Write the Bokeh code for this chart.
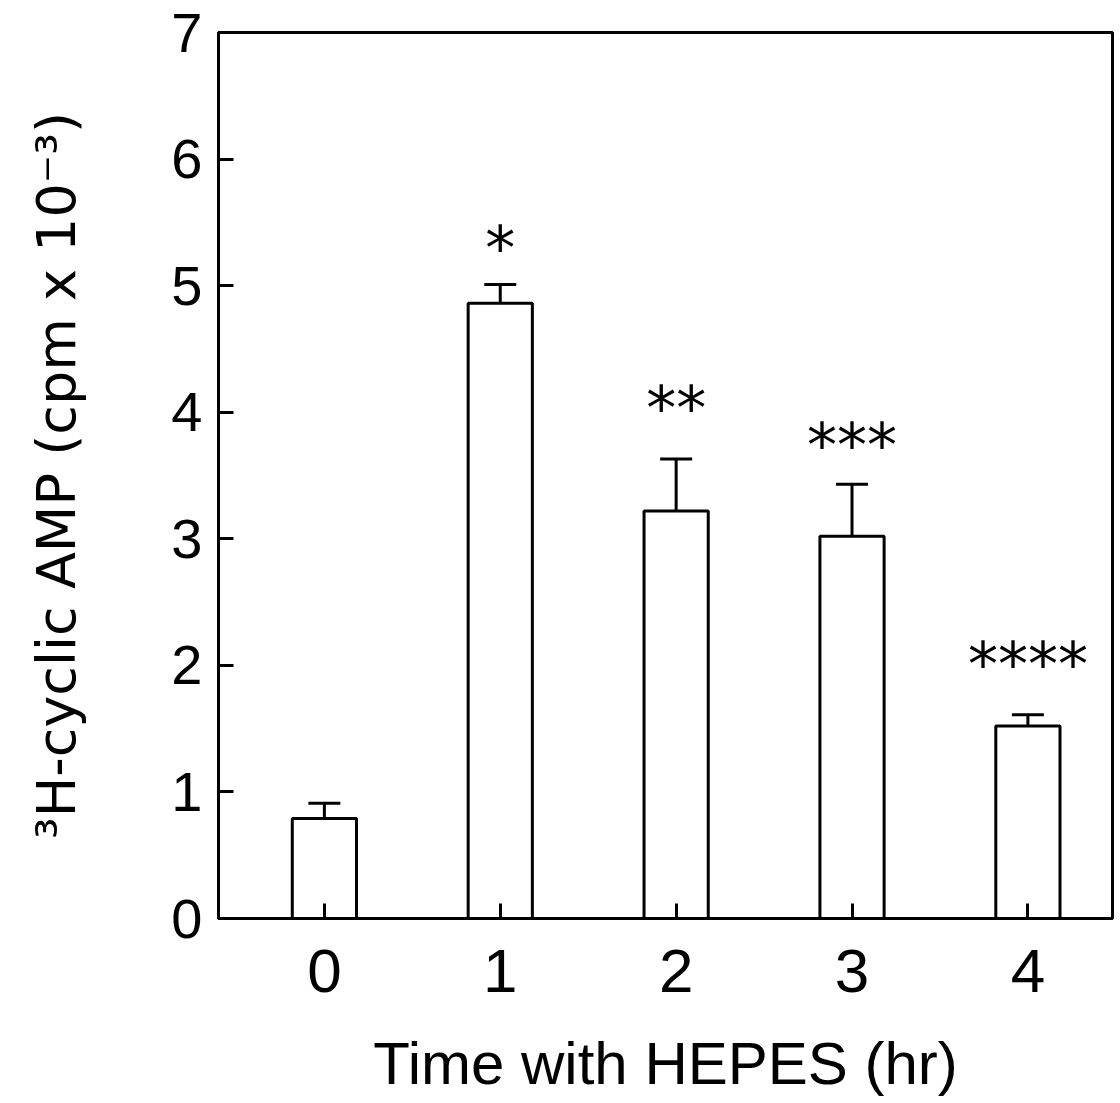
from bokeh.plotting import figure
from bokeh.models import ColumnDataSource, Whisker, TeeHead, FixedTicker
from bokeh.core.properties import value
from bokeh.embed import file_html
from bokeh.resources import INLINE

# ---- data ----
hours = [0, 1, 2, 3, 4]
hour_labels = ["0", "1", "2", "3", "4"]
camp_mean = [0.79, 4.86, 3.22, 3.02, 1.52]      # cpm x 10^-3
camp_sem = [0.12, 0.15, 0.41, 0.41, 0.09]
significance = ["", "*", "**", "***", "****"]
significance_y = [0.0, 5.30, 4.03, 3.74, 2.01]   # height of the asterisk labels
y_ticks = [0, 1, 2, 3, 4, 5, 6, 7]

upper = [m + s for m, s in zip(camp_mean, camp_sem)]

src = ColumnDataSource(dict(x=hours, mean=camp_mean, upper=upper,
                            star_y=significance_y, stars=significance))

TF = "Liberation Sans"
LW = 3

p = figure(frame_width=894, frame_height=886, output_backend="svg",
           toolbar_location=None,
           x_range=(-0.602, 4.481), y_range=(0, 7),
           min_border_left=218, min_border_right=2, min_border_top=32,
           min_border_bottom=150)
p.background_fill_color = "white"
p.border_fill_color = "white"
p.xgrid.visible = False
p.ygrid.visible = False
p.outline_line_color = "black"
p.outline_line_width = LW

p.vbar(x="x", top="mean", width=0.365, bottom=0, source=src,
       fill_color="white", line_color="black", line_width=LW)

p.add_layout(Whisker(source=src, base="x", lower="mean", upper="upper",
                     line_color="black", line_width=LW,
                     upper_head=TeeHead(size=32, line_color="black", line_width=LW),
                     lower_head=None))

p.text(x="x", y="star_y", text="stars", source=src, text_align="center",
       text_baseline="middle", text_font=value("DejaVu Sans"),
       text_font_size="60px", text_color="black")

for ax in (p.xaxis[0], p.yaxis[0]):
    ax.axis_line_color = "black"
    ax.axis_line_width = LW
    ax.major_tick_line_color = "black"
    ax.major_tick_line_width = LW
    ax.major_tick_in = 15
    ax.major_tick_out = 0
    ax.minor_tick_line_color = None
    ax.major_label_text_font = TF
    ax.major_label_text_color = "black"

p.xaxis.major_label_text_font_size = "62px"
p.yaxis.major_label_text_font_size = "56px"

p.xaxis.ticker = FixedTicker(ticks=hours)
p.xaxis.major_label_overrides = {h: l for h, l in zip(hours, hour_labels)}
p.yaxis.ticker = FixedTicker(ticks=y_ticks)
p.xaxis.major_label_standoff = 31
p.yaxis.major_label_standoff = 16

p.xaxis.axis_label = "Time with HEPES (hr)"
p.xaxis.axis_label_text_font = TF
p.xaxis.axis_label_text_font_size = "60px"
p.xaxis.axis_label_text_font_style = "normal"
p.xaxis.axis_label_text_color = "black"
p.xaxis.axis_label_standoff = 35

p.yaxis.axis_label = "\u00b3H-cyclic AMP (cpm x 10\u207b\u00b3)"
p.yaxis.axis_label_text_font = "DejaVu Sans"
p.yaxis.axis_label_text_font_size = "54px"
p.yaxis.axis_label_text_font_style = "normal"
p.yaxis.axis_label_text_color = "black"
p.yaxis.axis_label_standoff = 80

open("out.html", "w").write(file_html(p, INLINE))
